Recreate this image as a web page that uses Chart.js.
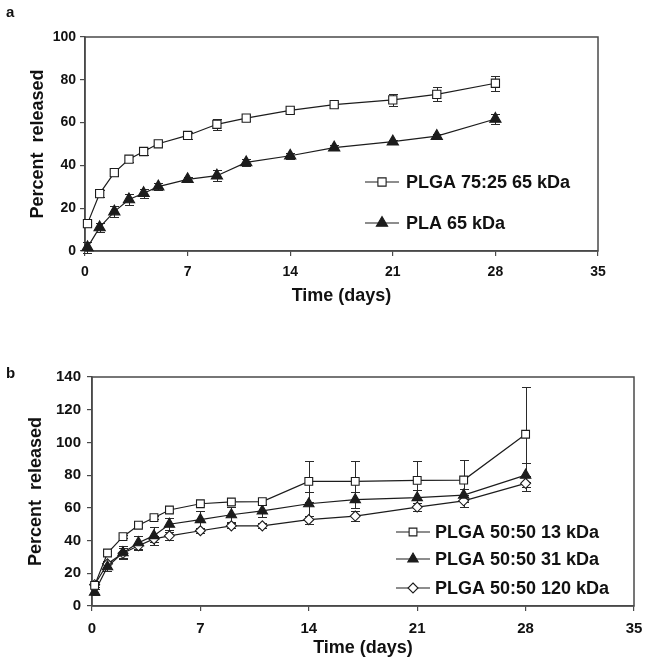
<!DOCTYPE html>
<html><head><meta charset="utf-8">
<script src="https://cdn.jsdelivr.net/npm/chart.js@4/dist/chart.umd.min.js"></script>
<style>
html,body{margin:0;padding:0;background:#fff;}
#wrap{position:relative;width:649px;height:671px;overflow:hidden;}
canvas{position:absolute;left:0;}
.lbl{position:absolute;font:bold 15px "Liberation Sans",Arial,sans-serif;color:#111;line-height:18px;}
</style></head><body>
<div id="wrap">
<canvas id="ca" width="649" height="320" style="top:0"></canvas>
<canvas id="cb" width="649" height="351" style="top:320px"></canvas>
<div class="lbl" style="left:6px;top:3px">a</div>
<div class="lbl" style="left:6px;top:364px">b</div>
</div>
<script>
// ---------- data ----------
const daysA = [0.17, 1, 2, 3, 4, 5, 7, 9, 11, 14, 17, 21, 24, 28];
const plga7525 = [12.8, 26.8, 36.6, 42.9, 46.5, 50.1, 54.0, 59.2, 62.1, 65.7, 68.4, 70.6, 73.2, 78.4];
const plga7525Err = [1.5, 1.5, 1.5, 1.5, 1.5, 1.2, 1.5, 2.5, 1.5, 1.0, 1.0, 2.7, 3.3, 3.5];
const pla65 = [1.7, 11.0, 18.4, 24.1, 27.0, 30.1, 33.5, 35.2, 41.4, 44.5, 48.3, 51.1, 53.7, 61.7];
const pla65Err = [2.5, 2.0, 2.5, 2.5, 2.0, 1.5, 1.0, 2.5, 1.5, 1.5, 1.0, 1.0, 1.0, 2.5];

const daysB = [0.17, 1, 2, 3, 4, 5, 7, 9, 11, 14, 17, 21, 24, 28];
const plga13 = [12.6, 32.4, 42.4, 49.4, 54.0, 58.7, 62.5, 63.6, 63.8, 76.2, 76.2, 76.8, 77.0, 105.0];
const plga13Err = [1.0, 1.5, 1.0, 1.0, 1.0, 1.0, 1.0, 1.5, 1.5, 12.5, 12.5, 12.0, 12.0, 29.0];
const plga31 = [8.5, 24.0, 32.6, 38.7, 43.0, 50.0, 52.8, 55.8, 58.1, 62.5, 65.0, 66.2, 67.8, 80.0];
const plga31Err = [2.0, 2.5, 4.0, 4.3, 5.5, 3.6, 5.0, 4.5, 3.5, 7.5, 5.0, 5.0, 4.0, 7.5];
const plga120 = [13.0, 25.8, 32.2, 36.8, 41.0, 42.9, 46.0, 49.0, 49.0, 52.8, 55.0, 60.5, 64.3, 75.0];
const plga120Err = [1.5, 2.0, 3.0, 2.0, 2.0, 2.5, 1.5, 1.5, 1.5, 2.5, 3.0, 2.5, 3.5, 4.5];

const xTicks = [0, 7, 14, 21, 28, 35];
const labelsA = ['PLGA 75:25 65 kDa', 'PLA 65 kDa'];
const labelsB = ['PLGA 50:50 13 kDa', 'PLGA 50:50 31 kDa', 'PLGA 50:50 120 kDa'];

// ---------- helpers ----------
const FONT = '"Liberation Sans", Arial, sans-serif';
const INK = '#1c1c1c';
const pts = (xs, ys) => xs.map((x, i) => ({x: x, y: ys[i]}));

function drawMarker(ctx, style, x, y, r) {
  ctx.beginPath();
  if (style === 'rect') {
    const s = r * Math.SQRT1_2;
    ctx.rect(x - s, y - s, 2 * s, 2 * s);
  } else if (style === 'triangle') {
    ctx.moveTo(x, y - r);
    ctx.lineTo(x + r * 0.866, y + r * 0.5);
    ctx.lineTo(x - r * 0.866, y + r * 0.5);
    ctx.closePath();
  } else {
    ctx.moveTo(x, y - r); ctx.lineTo(x + r, y); ctx.lineTo(x, y + r); ctx.lineTo(x - r, y); ctx.closePath();
  }
  ctx.fill(); ctx.stroke();
}

const errorBars = {
  id: 'errorBars',
  beforeDatasetsDraw(chart) {
    const {ctx} = chart; const x = chart.scales.x, y = chart.scales.y;
    ctx.save();
    ctx.strokeStyle = '#2a2a2a'; ctx.lineWidth = 1;
    chart.data.datasets.forEach(ds => {
      if (!ds.errors) return;
      ds.data.forEach((p, i) => {
        const e = ds.errors[i];
        const px = Math.round(x.getPixelForValue(p.x)) + 0.5;
        const y1 = Math.round(y.getPixelForValue(p.y + e)) + 0.5;
        const y2 = Math.round(y.getPixelForValue(p.y - e)) + 0.5;
        const c = ds.capHalf || 4.5;
        ctx.beginPath();
        ctx.moveTo(px, y1); ctx.lineTo(px, y2);
        ctx.moveTo(px - c, y1); ctx.lineTo(px + c, y1);
        ctx.moveTo(px - c, y2); ctx.lineTo(px + c, y2);
        ctx.stroke();
      });
    });
    ctx.restore();
  }
};

const frame = {
  id: 'frame',
  beforeDatasetsDraw(chart) {
    const a = chart.chartArea, ctx = chart.ctx;
    ctx.save();
    ctx.strokeStyle = '#4a4a4a'; ctx.lineWidth = 1.5;
    ctx.strokeRect(a.left, a.top, a.right - a.left, a.bottom - a.top);
    ctx.restore();
  }
};

const inLegend = {
  id: 'inLegend',
  afterDraw(chart, args, opts) {
    const ctx = chart.ctx;
    ctx.save();
    chart.data.datasets.forEach((ds, i) => {
      const y = opts.ys[i];
      ctx.strokeStyle = INK; ctx.lineWidth = 1.2;
      ctx.beginPath(); ctx.moveTo(opts.x0, y); ctx.lineTo(opts.x1, y); ctx.stroke();
      ctx.fillStyle = ds.pointBackgroundColor; ctx.strokeStyle = INK; ctx.lineWidth = 1.1;
      drawMarker(ctx, ds.pointStyle, (opts.x0 + opts.x1) / 2, y, ds.pointRadius * (opts.markerScale || 1));
      ctx.fillStyle = '#111';
      ctx.font = 'bold ' + opts.fontSize + 'px ' + FONT;
      ctx.textBaseline = 'middle'; ctx.textAlign = 'left';
      ctx.fillText(ds.label, opts.textX, y + 1);
    });
    ctx.restore();
  }
};

function series(label, xs, ys, errs, style, fill, radius) {
  return {
    label: label, data: pts(xs, ys), errors: errs,
    borderColor: INK, borderWidth: 1.2, tension: 0,
    pointStyle: style, pointRadius: radius, pointHoverRadius: radius,
    pointBackgroundColor: fill, pointBorderColor: INK, pointBorderWidth: 1.1,
    clip: false, fill: false
  };
}

function makeChart(id, cfg) {
  return new Chart(document.getElementById(id), {
    type: 'line',
    data: {datasets: cfg.datasets},
    plugins: [frame, errorBars, inLegend],
    options: {
      responsive: false, animation: false, events: [],
      layout: {padding: cfg.padding},
      plugins: {legend: {display: false}, tooltip: {enabled: false}, inLegend: cfg.legend},
      scales: {
        x: {
          type: 'linear', min: 0, max: 35,
          afterBuildTicks: s => { s.ticks = xTicks.map(v => ({value: v})); },
          grid: {display: true, drawOnChartArea: false, drawTicks: true, tickLength: 5, color: '#4a4a4a', lineWidth: 1.2},
          border: {display: true, color: '#4a4a4a', width: 1.5},
          ticks: {color: '#111', font: {family: FONT, weight: 'bold', size: cfg.tickSize}, padding: cfg.xTickPad, maxRotation: 0},
          title: {display: true, text: 'Time (days)', color: '#111', font: {family: FONT, weight: 'bold', size: cfg.titleSize}, padding: {top: 0, bottom: cfg.xTitlePad}},
          afterFit: s => { s.height = cfg.xHeight; s.paddingLeft = 0; s.paddingRight = 0; }
        },
        y: {
          type: 'linear', min: 0, max: cfg.yMax,
          ticks: {stepSize: 20, color: '#111', font: {family: FONT, weight: 'bold', size: cfg.tickSize}, padding: cfg.yTickPad},
          grid: {display: true, drawOnChartArea: false, drawTicks: true, tickLength: 5, color: '#4a4a4a', lineWidth: 1.2},
          border: {display: true, color: '#4a4a4a', width: 1.5},
          title: {display: true, text: 'Percent  released', color: '#111', font: {family: FONT, weight: 'bold', size: cfg.titleSize}, padding: {top: cfg.yTitlePad, bottom: 0}},
          afterFit: s => { s.width = cfg.yWidth; s.paddingTop = 0; s.paddingBottom = 0; }
        }
      }
    }
  });
}

makeChart('ca', {
  datasets: [
    series(labelsA[0], daysA, plga7525, plga7525Err, 'rect', '#ffffff', 5.8),
    series(labelsA[1], daysA, pla65, pla65Err, 'triangle', INK, 6.5)
  ],
  padding: {left: 0, right: 51, top: 37, bottom: 0},
  yWidth: 85, xHeight: 69, yMax: 100,
  tickSize: 14, titleSize: 18,
  xTickPad: 8, yTickPad: 4, xTitlePad: 13, yTitlePad: 27,
  legend: {x0: 365, x1: 399, textX: 406, ys: [182, 223], fontSize: 18}
});

makeChart('cb', {
  datasets: [
    series(labelsB[0], daysB, plga13, plga13Err, 'rect', '#ffffff', 5.5),
    series(labelsB[1], daysB, plga31, plga31Err, 'triangle', INK, 6),
    series(labelsB[2], daysB, plga120, plga120Err, 'rectRot', '#ffffff', 5)
  ],
  padding: {left: 0, right: 15, top: 57, bottom: 0},
  yWidth: 92, xHeight: 65, yMax: 140,
  tickSize: 15, titleSize: 18,
  xTickPad: 9, yTickPad: 6, xTitlePad: 12, yTitlePad: 25,
  legend: {x0: 396, x1: 430, textX: 435, ys: [532, 559, 588].map(v => v - 320), fontSize: 18}
});
</script>
</body></html>
